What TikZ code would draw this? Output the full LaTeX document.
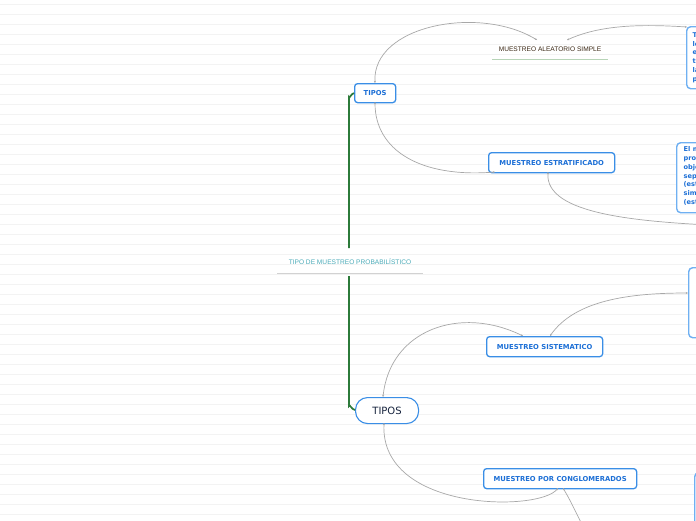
\documentclass[tikz,border=0pt]{standalone}
\usepackage{fontspec}
\setmainfont{DejaVu Sans}
\newfontfamily\arialfont{Liberation Sans}
\usetikzlibrary{arrows.meta}
\definecolor{boxblue}{HTML}{3A8EE6}
\definecolor{lightblue}{HTML}{6FB0F2}
\definecolor{txtblue}{HTML}{1C6FD6}
\definecolor{navy}{HTML}{16233D}
\definecolor{teal}{HTML}{4AAAB8}
\definecolor{darkgreen}{HTML}{2C7A3A}
\definecolor{conn}{HTML}{A8A8A8}
\definecolor{bgline}{HTML}{F3F3F3}
\tikzset{
  x=1pt, y=-1pt,
  subbox/.style={draw=boxblue, line width=1.3pt, rounded corners=3pt, fill=white,
    text=txtblue, font=\bfseries\fontsize{6.8}{8}\selectfont, inner sep=0pt, anchor=north west},
  sidebox/.style={draw=lightblue, line width=1.4pt, rounded corners=4pt, fill=white, anchor=north west},
  conline/.style={draw=conn, line width=0.7pt, {Stealth[length=2.2pt,width=2pt]}-{Stealth[length=2.2pt,width=2pt]}},
  bodytxt/.style={text=txtblue, font=\bfseries\fontsize{6.6}{8.8}\selectfont, align=left, anchor=north west, inner sep=0pt},
  trunk/.style={draw=darkgreen, line width=1.7pt},
}
\begin{document}
\begin{tikzpicture}
\useasboundingbox (0,0) rectangle (696,520);
\clip (0,0) rectangle (696,520);
\fill[white] (0,0) rectangle (696,520);
% background ruled lines
\foreach \k in {0,...,51} {
  \draw[bgline, line width=0.9pt] (0,4+10*\k) -- (696,4+10*\k);
}

% central topic
\node[text=teal, font=\arialfont\fontsize{6.6}{8}\selectfont, inner sep=0pt] (central) at (350,262) {TIPO DE MUESTREO PROBABILÍSTICO};
\coordinate (culeft) at (277,273);
\coordinate (curight) at (423,273);
\draw[gray!35, line width=0.8pt] (culeft) -- (curight);

% main nodes
\node[subbox, minimum width=41pt, minimum height=19pt] (tipos1) at (354,83) {TIPOS};
\node[draw=boxblue, line width=1.1pt, rounded corners=12pt, fill=white, text=navy,
  font=\fontsize{10}{12}\selectfont, minimum width=63pt, minimum height=26pt, inner sep=0pt, anchor=north west] (tipos2) at (355,397) {TIPOS};

% green trunk
\coordinate (gtop) at (349,248);
\coordinate (gbot) at (349,276);
\draw[trunk] (gtop) -- (349,97) to[out=-90,in=180] (tipos1.west);
\draw[trunk] (gbot) -- (349,406) to[out=90,in=180] (355,410);

% level 2
\node[text=black!70!brown, font=\arialfont\fontsize{6.6}{8}\selectfont, inner sep=0pt] (aleat) at (550,49) {MUESTREO ALEATORIO SIMPLE};
\draw[green!25!gray!45, line width=0.9pt] (492,59) -- (608,59);
\node[subbox, minimum width=126pt, minimum height=20pt] (estrat) at (488,152) {MUESTREO ESTRATIFICADO};
\node[subbox, minimum width=116pt, minimum height=20pt] (sistem) at (486,336) {MUESTREO SISTEMATICO};
\node[subbox, minimum width=153pt, minimum height=20pt] (conglo) at (483,468) {MUESTREO POR CONGLOMERADOS};

% right side boxes (clipped at the picture edge, as in the reference)
\node[sidebox, minimum width=80pt, minimum height=62pt] (box1) at (686,26) {};
\node[bodytxt] (box1txt) at (692.5,32) {Todos\\los\\elementos\\tienen\\la misma\\probabilidad};
\node[sidebox, minimum width=90pt, minimum height=70pt] (box2) at (676,142) {};
\node[bodytxt] (box2txt) at (683.5,146.5) {El muestreo\\procedimiento\\objetivo\\separa\\(estratos)\\simple\\(estratos)};
\node[sidebox, minimum width=80pt, minimum height=70pt] (box3) at (688,267) {};
\node[sidebox, minimum width=80pt, minimum height=70pt] (box4) at (694,472) {};

% connectors
\coordinate (a1) at (375,83);
\coordinate (a2) at (537,40);
\coordinate (a3) at (567,40);
\coordinate (a4) at (687,27);
\draw[conline] (a1) .. controls (372,25) and (480,5) .. (a2);
\draw[conline] (a3) .. controls (600,25) and (640,24) .. (a4);
\coordinate (b1) at (375,102);
\coordinate (b2) at (495,172);
\draw[conline] (b1) .. controls (375,150) and (420,178) .. (b2);
\coordinate (b3) at (548,172);
\coordinate (b4) at (730,226);
\draw[conline] (b3) .. controls (545,215) and (640,222) .. (b4);
\coordinate (c1) at (383,397);
\coordinate (c2) at (523,336);
\draw[conline] (c1) .. controls (390,330) and (460,305) .. (c2);
\coordinate (c3) at (550,336);
\coordinate (c4) at (688,293);
\draw[conline] (c3) .. controls (575,300) and (630,293) .. (c4);
\coordinate (d1) at (384,423);
\coordinate (d2) at (558,488);
\draw[conline] (d1) .. controls (380,512) and (540,512) .. (d2);
\coordinate (d3) at (563,488);
\coordinate (d4) at (592,545);
\draw[conline] (d3) .. controls (570,500) .. (d4);
\end{tikzpicture}
\end{document}
